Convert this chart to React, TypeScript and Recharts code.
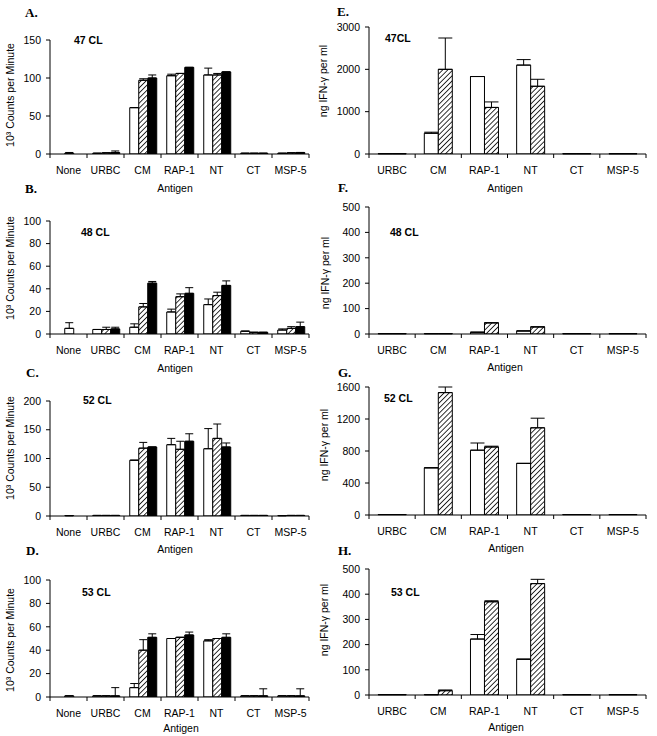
import React from 'react';
import { BarChart, Bar, XAxis, YAxis, ErrorBar, Cell } from 'recharts';

const FONT = 'Arial, "Liberation Sans", sans-serif';
const SERIF = '"Times New Roman", "Liberation Serif", serif';

const leftCats = ['None', 'URBC', 'CM', 'RAP-1', 'NT', 'CT', 'MSP-5'];
const rightCats = ['URBC', 'CM', 'RAP-1', 'NT', 'CT', 'MSP-5'];

// Panel A (47 CL, 10^3 cpm)
const aOpen = [0, 1, 61, 103, 104, 1, 1];
const aHatch = [1, 1.5, 97, 106, 104, 1, 1.5];
const aSolid = [0, 2, 100, 114, 108, 1, 2];
const aOpenErr = [0, 0, 0, 2, 9, 0, 0];
const aHatchErr = [1, 0, 2, 0, 2, 0, 0];
const aSolidErr = [0, 2, 4, 0, 0, 0, 0];
const aTicks = [0, 50, 100, 150];

// Panel B (48 CL)
const bOpen = [0, 4, 6, 19.5, 26, 2.5, 3.5];
const bHatch = [5, 4, 24, 33, 34, 1.5, 5];
const bSolid = [0, 4.5, 45, 36, 43, 1.5, 6.5];
const bOpenErr = [0, 0, 3, 2.5, 5, 0, 1];
const bHatchErr = [5, 2, 3, 2.5, 3, 0, 1.5];
const bSolidErr = [0, 1.5, 1.5, 5, 4, 0, 4];
const bTicks = [0, 20, 40, 60, 80, 100];

// Panel C (52 CL)
const cOpen = [0, 1, 97, 124, 117, 1, 0.5];
const cHatch = [0.5, 1, 118, 116, 135, 1, 1];
const cSolid = [0, 1, 120, 130, 120, 1, 1];
const cOpenErr = [0, 0, 0, 11, 35, 0, 0];
const cHatchErr = [0, 0, 10, 14, 25, 0, 0];
const cSolidErr = [0, 0, 0, 13, 7, 0, 0];
const cTicks = [0, 50, 100, 150, 200];

// Panel D (53 CL)
const dOpen = [0, 1, 8, 50, 48, 1, 1];
const dHatch = [1, 1, 40, 51, 50, 1, 1];
const dSolid = [0, 1, 51, 53, 51, 1, 1];
const dOpenErr = [0, 0, 3.5, 0, 1, 0, 0];
const dHatchErr = [0, 0, 9, 0, 0, 0, 0];
const dSolidErr = [0, 7, 3, 2.5, 3, 6, 6];
const dTicks = [0, 20, 40, 60, 80, 100];

// Panel E (47CL, ng IFN-g)
const eOpen = [5, 490, 1830, 2100, 5, 5];
const eHatch = [5, 2000, 1100, 1600, 5, 5];
const eOpenErr = [0, 25, 0, 130, 0, 0];
const eHatchErr = [0, 740, 130, 165, 0, 0];
const eTicks = [0, 1000, 2000, 3000];

// Panel F (48 CL)
const fOpen = [1, 1, 7, 12, 1, 1];
const fHatch = [1, 1, 44, 28, 1, 1];
const fOpenErr = [0, 0, 0, 0, 0, 0];
const fHatchErr = [0, 0, 0, 0, 0, 0];
const fTicks = [0, 100, 200, 300, 400, 500];

// Panel G (52 CL)
const gOpen = [5, 590, 810, 645, 5, 5];
const gHatch = [5, 1530, 850, 1090, 5, 5];
const gOpenErr = [0, 0, 90, 0, 0, 0];
const gHatchErr = [0, 70, 10, 120, 0, 0];
const gTicks = [0, 400, 800, 1200, 1600];

// Panel H (53 CL)
const hOpen = [1, 1, 222, 142, 1, 1];
const hHatch = [1, 17, 370, 442, 1, 1];
const hOpenErr = [0, 0, 18, 0, 0, 0];
const hHatchErr = [0, 3, 4, 17, 0, 0];
const hTicks = [0, 100, 200, 300, 400, 500];

type Row = {
  name: string;
  open: number;
  hatch: number;
  solid?: number;
  openErr: [number, number];
  hatchErr: [number, number];
  solidErr?: [number, number];
};

function buildRows(
  cats: string[],
  open: number[],
  hatch: number[],
  openErr: number[],
  hatchErr: number[],
  solid?: number[],
  solidErr?: number[]
): Row[] {
  return cats.map((name, i) => {
    const r: Row = {
      name,
      open: open[i],
      hatch: hatch[i],
      openErr: [0, openErr[i]],
      hatchErr: [0, hatchErr[i]],
    };
    if (solid && solidErr) {
      r.solid = solid[i];
      r.solidErr = [0, solidErr[i]];
    }
    return r;
  });
}

function BandTick(props: any) {
  const { x, y, payload, index, bw, count } = props;
  const half = bw / 2;
  return (
    <g>
      <line x1={x - half} y1={y} x2={x - half} y2={y + 4} stroke="#000" strokeWidth={1} />
      {index === count - 1 && (
        <line x1={x + half} y1={y} x2={x + half} y2={y + 4} stroke="#000" strokeWidth={1} />
      )}
      <text
        x={x}
        y={y + 16}
        textAnchor="middle"
        dominantBaseline="central"
        fontSize={10.5}
        fontFamily={FONT}
        fill="#000"
      >
        {payload.value}
      </text>
    </g>
  );
}

type PanelProps = {
  id: string;
  rows: Row[];
  plotLeft: number;
  plotRight: number;
  plotTop: number;
  plotBottom: number;
  yTicks: number[];
  three: boolean;
  gap: string;
  cap: number;
};

function Panel(p: PanelProps) {
  const yw = 44;
  const mt = 8;
  const mr = 10;
  const xh = 28;
  const width = yw + (p.plotRight - p.plotLeft) + mr;
  const height = mt + (p.plotBottom - p.plotTop) + xh;
  const n = p.rows.length;
  const bw = (p.plotRight - p.plotLeft) / n;
  const hatchUrl = `url(#hatch-${p.id})`;
  const yMax = p.yTicks[p.yTicks.length - 1];
  const tickStyle = { fontSize: 10.5, fill: '#000', fontFamily: FONT };
  return (
    <div style={{ position: 'absolute', left: p.plotLeft - yw, top: p.plotTop - mt }}>
      <BarChart
        width={width}
        height={height}
        data={p.rows}
        margin={{ top: mt, right: mr, bottom: 0, left: 0 }}
        barGap={0}
        barCategoryGap={p.gap}
      >
        <defs>
          <pattern
            id={`hatch-${p.id}`}
            width="3.6"
            height="3.6"
            patternUnits="userSpaceOnUse"
            patternTransform="rotate(45)"
          >
            <rect width="3.6" height="3.6" fill="#fff" />
            <line x1="0" y1="0" x2="0" y2="3.6" stroke="#000" strokeWidth="1.6" />
          </pattern>
        </defs>
        <XAxis
          dataKey="name"
          type="category"
          height={xh}
          axisLine={{ stroke: '#000' }}
          tickLine={false}
          tickSize={0}
          tickMargin={0}
          interval={0}
          tick={<BandTick bw={bw} count={n} />}
        />
        <YAxis
          type="number"
          domain={[0, yMax]}
          ticks={p.yTicks}
          allowDataOverflow
          width={yw}
          interval={0}
          tickSize={4}
          tickMargin={5}
          axisLine={{ stroke: '#000' }}
          tickLine={{ stroke: '#000' }}
          tick={tickStyle}
        />
        <Bar dataKey="open" fill="#fff" stroke="#000" strokeWidth={1} isAnimationActive={false}>
          <ErrorBar dataKey="openErr" direction="y" width={p.cap} stroke="#000" strokeWidth={1} />
        </Bar>
        <Bar dataKey="hatch" fill={hatchUrl} stroke="#000" strokeWidth={1} isAnimationActive={false}>
          {p.rows.map((r, i) => (
            <Cell key={i} fill={r.name === 'None' ? '#fff' : hatchUrl} />
          ))}
          <ErrorBar dataKey="hatchErr" direction="y" width={p.cap} stroke="#000" strokeWidth={1} />
        </Bar>
        {p.three && (
          <Bar dataKey="solid" fill="#000" stroke="#000" strokeWidth={1} isAnimationActive={false}>
            <ErrorBar dataKey="solidErr" direction="y" width={p.cap} stroke="#000" strokeWidth={1} />
          </Bar>
        )}
      </BarChart>
    </div>
  );
}

function Letter({ x, y, t }: { x: number; y: number; t: string }) {
  return (
    <div
      style={{
        position: 'absolute',
        left: x,
        top: y,
        transform: 'translateY(-50%)',
        fontFamily: SERIF,
        fontWeight: 'bold',
        fontSize: 13,
        lineHeight: 1,
        whiteSpace: 'nowrap',
      }}
    >
      {t}
    </div>
  );
}

function Tag({ x, y, t }: { x: number; y: number; t: string }) {
  return (
    <div
      style={{
        position: 'absolute',
        left: x,
        top: y,
        transform: 'translateY(-50%)',
        fontFamily: FONT,
        fontWeight: 'bold',
        fontSize: 10.5,
        lineHeight: 1,
        whiteSpace: 'nowrap',
      }}
    >
      {t}
    </div>
  );
}

function Centered({ x, y, t, rotate }: { x: number; y: number; t: string; rotate?: boolean }) {
  return (
    <div
      style={{
        position: 'absolute',
        left: x,
        top: y,
        transform: rotate ? 'translate(-50%,-50%) rotate(-90deg)' : 'translate(-50%,-50%)',
        fontFamily: FONT,
        fontSize: 10.5,
        lineHeight: 1,
        whiteSpace: 'nowrap',
      }}
    >
      {t}
    </div>
  );
}

const rowsA = buildRows(leftCats, aOpen, aHatch, aOpenErr, aHatchErr, aSolid, aSolidErr);
const rowsB = buildRows(leftCats, bOpen, bHatch, bOpenErr, bHatchErr, bSolid, bSolidErr);
const rowsC = buildRows(leftCats, cOpen, cHatch, cOpenErr, cHatchErr, cSolid, cSolidErr);
const rowsD = buildRows(leftCats, dOpen, dHatch, dOpenErr, dHatchErr, dSolid, dSolidErr);
const rowsE = buildRows(rightCats, eOpen, eHatch, eOpenErr, eHatchErr);
const rowsF = buildRows(rightCats, fOpen, fHatch, fOpenErr, fHatchErr);
const rowsG = buildRows(rightCats, gOpen, gHatch, gOpenErr, gHatchErr);
const rowsH = buildRows(rightCats, hOpen, hHatch, hOpenErr, hHatchErr);

const CPM = '10\u00B3 Counts per Minute';
const IFN = 'ng IFN-\u03B3 per ml';

export default function App() {
  const L = { plotLeft: 50, plotRight: 309, three: true, gap: '15.5%', cap: 4 };
  const R = { plotLeft: 369, plotRight: 646, three: false, gap: '19.8%', cap: 7 };
  return (
    <div
      style={{
        position: 'absolute',
        left: 0,
        top: 0,
        width: 657,
        height: 736,
        background: '#fff',
        overflow: 'hidden',
        color: '#000',
      }}
    >
      <Panel id="A" rows={rowsA} {...L} plotTop={40} plotBottom={154} yTicks={aTicks} />
      <Panel id="B" rows={rowsB} {...L} plotTop={221} plotBottom={334} yTicks={bTicks} />
      <Panel id="C" rows={rowsC} {...L} plotTop={401} plotBottom={516} yTicks={cTicks} />
      <Panel id="D" rows={rowsD} {...L} plotTop={580} plotBottom={697} yTicks={dTicks} />
      <Panel id="E" rows={rowsE} {...R} plotTop={27} plotBottom={154} yTicks={eTicks} />
      <Panel id="F" rows={rowsF} {...R} plotTop={207} plotBottom={334} yTicks={fTicks} />
      <Panel id="G" rows={rowsG} {...R} plotTop={387} plotBottom={515} yTicks={gTicks} />
      <Panel id="H" rows={rowsH} {...R} plotTop={569} plotBottom={695} yTicks={hTicks} />

      <Letter x={25} y={12} t="A." />
      <Letter x={25} y={188} t="B." />
      <Letter x={26} y={372} t="C." />
      <Letter x={26} y={550} t="D." />
      <Letter x={337} y={11} t="E." />
      <Letter x={338} y={187} t="F." />
      <Letter x={338} y={372} t="G." />
      <Letter x={338} y={550} t="H." />

      <Tag x={74} y={40} t="47 CL" />
      <Tag x={81} y={232} t="48 CL" />
      <Tag x={83} y={400} t="52 CL" />
      <Tag x={82} y={592} t="53 CL" />
      <Tag x={385} y={38} t="47CL" />
      <Tag x={390} y={232} t="48 CL" />
      <Tag x={384} y={398} t="52 CL" />
      <Tag x={391} y={592} t="53 CL" />

      <Centered x={175} y={188} t="Antigen" />
      <Centered x={175} y={368} t="Antigen" />
      <Centered x={175} y={549} t="Antigen" />
      <Centered x={181} y={728} t="Antigen" />
      <Centered x={505} y={188} t="Antigen" />
      <Centered x={505} y={367} t="Antigen" />
      <Centered x={506} y={548} t="Antigen" />
      <Centered x={506} y={727} t="Antigen" />

      <Centered x={10} y={95} t={CPM} rotate />
      <Centered x={10} y={268} t={CPM} rotate />
      <Centered x={10} y={448} t={CPM} rotate />
      <Centered x={10} y={640} t={CPM} rotate />
      <Centered x={323} y={81} t={IFN} rotate />
      <Centered x={325} y={273} t={IFN} rotate />
      <Centered x={324} y={445} t={IFN} rotate />
      <Centered x={324} y={620} t={IFN} rotate />
    </div>
  );
}
